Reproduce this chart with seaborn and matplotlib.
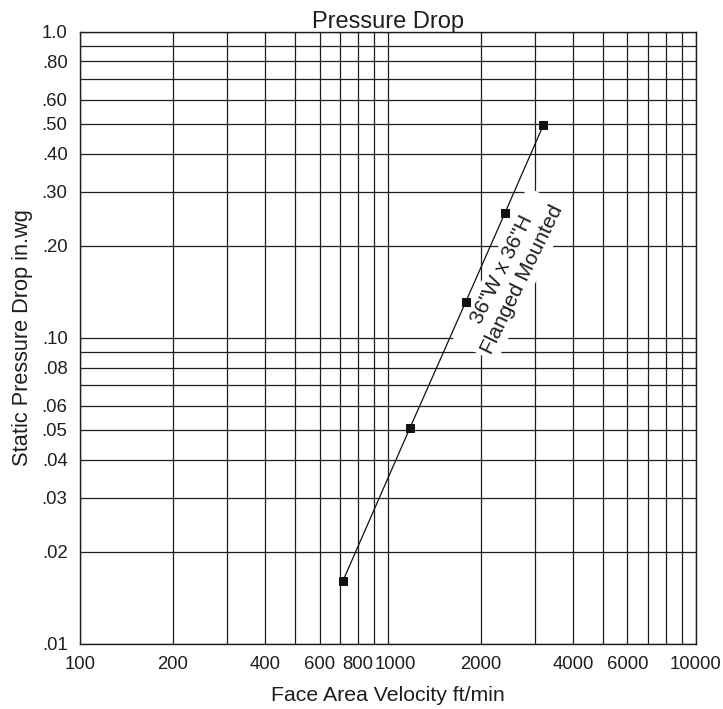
import matplotlib
matplotlib.use("Agg")
import matplotlib.pyplot as plt
import matplotlib.ticker as mticker
import matplotlib.transforms as mtransforms
import seaborn as sns
import pandas as pd

# Data
velocity = [715, 1180, 1790, 2400, 3200]
pressure = [0.0161, 0.0508, 0.131, 0.2555, 0.4955]
series_label = "36\"W x 36\"H\nFlanged Mounted"

x_major = [100, 200, 400, 600, 800, 1000, 2000, 4000, 6000, 10000]
x_major_labels = ["100", "200", "400", "600", "800", "1000", "2000", "4000", "6000", "10000"]
x_minor = [300, 500, 700, 900, 3000, 5000, 7000, 8000, 9000]
y_major = [0.01, 0.02, 0.03, 0.04, 0.05, 0.06, 0.08, 0.1, 0.2, 0.3, 0.4, 0.5, 0.6, 0.8, 1.0]
y_major_labels = [".01", ".02", ".03", ".04", ".05", ".06", ".08", ".10", ".20", ".30", ".40", ".50", ".60", ".80", "1.0"]
y_minor = [0.07, 0.09, 0.7, 0.9]

df = pd.DataFrame({"velocity": velocity, "pressure": pressure})

sns.set_style("white")
plt.rcParams["font.family"] = ["Liberation Sans", "DejaVu Sans"]

fig = plt.figure(figsize=(7.23, 7.09), dpi=100)
ax = fig.add_axes([0.1107, 0.0917, 0.9622 - 0.1107, 0.9553 - 0.0917])

ax.set_xscale("log")
ax.set_yscale("log")
ax.set_xlim(100, 10000)
ax.set_ylim(0.01, 1.0)

ax.xaxis.set_major_locator(mticker.FixedLocator(x_major))
ax.xaxis.set_major_formatter(mticker.FixedFormatter(x_major_labels))
ax.xaxis.set_minor_locator(mticker.FixedLocator(x_minor))
ax.xaxis.set_minor_formatter(mticker.NullFormatter())
ax.yaxis.set_major_locator(mticker.FixedLocator(y_major))
ax.yaxis.set_major_formatter(mticker.FixedFormatter(y_major_labels))
ax.yaxis.set_minor_locator(mticker.FixedLocator(y_minor))
ax.yaxis.set_minor_formatter(mticker.NullFormatter())

ax.grid(True, which="both", color="#1e1e1e", linewidth=0.9)
ax.set_axisbelow(True)
ax.tick_params(axis="both", which="major", direction="out", length=5, width=0.9,
               color="#1e1e1e", labelsize=13.3, pad=4, labelcolor="#1e1e1e")
ax.tick_params(axis="both", which="minor", length=0)
for s in ax.spines.values():
    s.set_color("#1e1e1e")
    s.set_linewidth(1.0)

sns.lineplot(data=df, x="velocity", y="pressure", ax=ax, color="#111111",
             linewidth=0.9, marker="s", markersize=6, markeredgecolor="#111111",
             markerfacecolor="#111111", zorder=4, sort=True)

ax.text(2529, 0.1607, series_label, rotation=64, rotation_mode="anchor",
        ha="center", va="center", multialignment="center", fontsize=15,
        color="#1e1e1e", zorder=3,
        bbox=dict(facecolor="white", edgecolor="none", pad=3))

ax.set_title("Pressure Drop", fontsize=17, color="#1e1e1e", pad=3)
ax.set_xlabel("Face Area Velocity ft/min", fontsize=15.3, color="#1e1e1e", labelpad=9)
ax.set_ylabel("Static Pressure Drop in.wg", fontsize=15.7, color="#1e1e1e", labelpad=6)

# nudge the crowded "1000" tick label right, as in the reference
fig.canvas.draw()
shift = mtransforms.ScaledTranslation(7 / 100, 0, fig.dpi_scale_trans)
for tick in ax.xaxis.get_major_ticks():
    if tick.label1.get_text() == "1000":
        tick.label1.set_transform(tick.label1.get_transform() + shift)

fig.savefig("out.png", dpi=100)
